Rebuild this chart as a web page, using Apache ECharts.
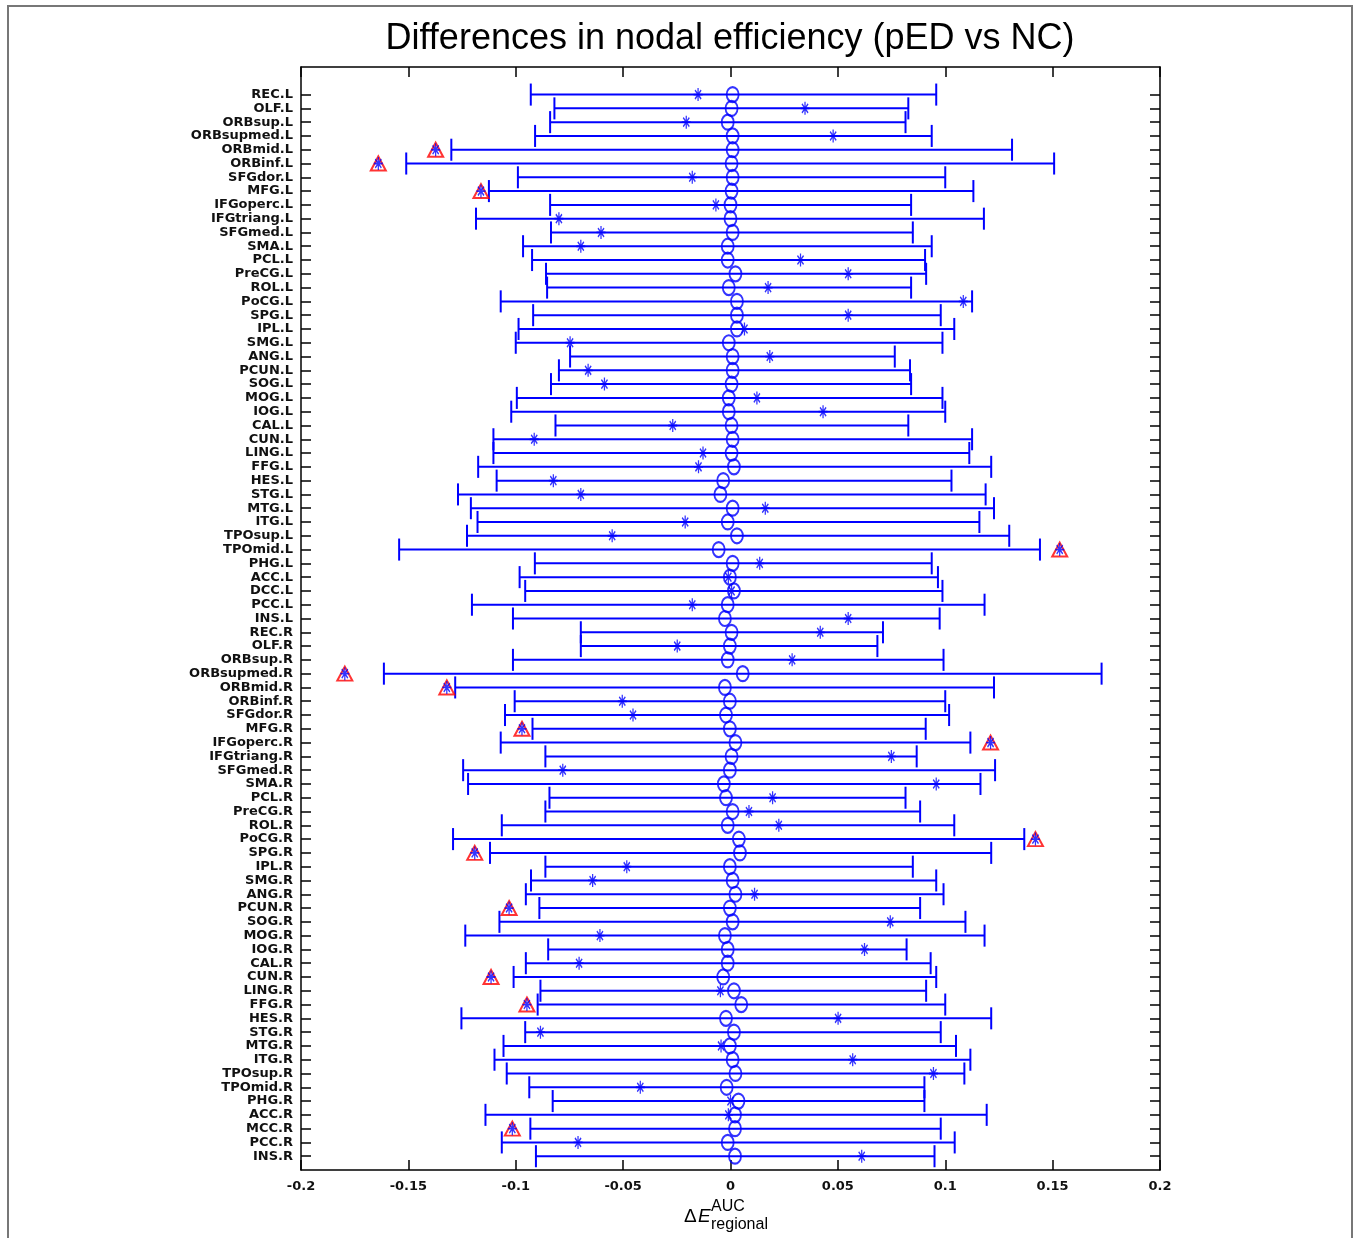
<!DOCTYPE html>
<html>
<head>
<meta charset="utf-8">
<title>Differences in nodal efficiency</title>
<script src="https://cdn.jsdelivr.net/npm/echarts@6/dist/echarts.min.js"></script>
<style>
  html, body { margin: 0; padding: 0; background: #fff; }
  #chart { width: 1357px; height: 1238px; }
</style>
</head>
<body>
<div id="chart"></div>
<script>
// regions, top to bottom
const regions = ['REC.L','OLF.L','ORBsup.L','ORBsupmed.L','ORBmid.L','ORBinf.L','SFGdor.L','MFG.L','IFGoperc.L','IFGtriang.L',
  'SFGmed.L','SMA.L','PCL.L','PreCG.L','ROL.L','PoCG.L','SPG.L','IPL.L','SMG.L','ANG.L','PCUN.L','SOG.L','MOG.L','IOG.L',
  'CAL.L','CUN.L','LING.L','FFG.L','HES.L','STG.L','MTG.L','ITG.L','TPOsup.L','TPOmid.L','PHG.L','ACC.L','DCC.L','PCC.L','INS.L',
  'REC.R','OLF.R','ORBsup.R','ORBsupmed.R','ORBmid.R','ORBinf.R','SFGdor.R','MFG.R','IFGoperc.R','IFGtriang.R',
  'SFGmed.R','SMA.R','PCL.R','PreCG.R','ROL.R','PoCG.R','SPG.R','IPL.R','SMG.R','ANG.R','PCUN.R','SOG.R','MOG.R','IOG.R',
  'CAL.R','CUN.R','LING.R','FFG.R','HES.R','STG.R','MTG.R','ITG.R','TPOsup.R','TPOmid.R','PHG.R','ACC.R','MCC.R','PCC.R','INS.R'];

// lower end of the error bar
const ciLow = [-0.093, -0.082, -0.084, -0.091, -0.130, -0.151, -0.099, -0.1125, -0.084, -0.1185,
  -0.0836, -0.0966, -0.0924, -0.0859, -0.0854, -0.107, -0.0919, -0.0987, -0.100, -0.0747, -0.0799, -0.0836, -0.0995, -0.1021,
  -0.0815, -0.1104, -0.1104, -0.1175, -0.1089, -0.1269, -0.1209, -0.1178, -0.1227, -0.1543, -0.0911, -0.0982, -0.0956, -0.1204, -0.1013,
  -0.0697, -0.0697, -0.1013, -0.1614, -0.1282, -0.1005, -0.105, -0.0922, -0.107, -0.0862,
  -0.1245, -0.1222, -0.0843, -0.0862, -0.1065, -0.1292, -0.112, -0.0862, -0.0929, -0.0953, -0.089, -0.1076, -0.1235, -0.0849,
  -0.0953, -0.101, -0.0885, -0.0898, -0.1253, -0.0956, -0.1057, -0.1099, -0.1042, -0.0937, -0.0828, -0.1141, -0.0932, -0.1065, -0.0906];

// upper end of the error bar
const ciHigh = [0.0958, 0.0828, 0.0815, 0.0937, 0.1311, 0.1507, 0.100, 0.1131, 0.0841, 0.118,
  0.0849, 0.0937, 0.0906, 0.0911, 0.0841, 0.1125, 0.0979, 0.1042, 0.0987, 0.0765, 0.0836, 0.0841, 0.0987, 0.100,
  0.0828, 0.1125, 0.1112, 0.1214, 0.1029, 0.1188, 0.1227, 0.1159, 0.1298, 0.1441, 0.0937, 0.0966, 0.0987, 0.1183, 0.0974,
  0.071, 0.0684, 0.0992, 0.1728, 0.1227, 0.100, 0.1018, 0.0909, 0.1117, 0.0867,
  0.1232, 0.1164, 0.0815, 0.0883, 0.1042, 0.1368, 0.1214, 0.0849, 0.0958, 0.0992, 0.0883, 0.1094, 0.1183, 0.082,
  0.0932, 0.0958, 0.0911, 0.100, 0.1214, 0.0979, 0.105, 0.1117, 0.1089, 0.0903, 0.0903, 0.1193, 0.0979, 0.1044, 0.095];

// mean of the null distribution (circles)
const nullMean = [0.001, 0.0005, -0.0013, 0.001, 0.001, 0.0005, 0.001, 0.0005, 0, 0,
  0.001, -0.0013, -0.0013, 0.0023, -0.0008, 0.003, 0.003, 0.003, -0.0008, 0.001, 0.001, 0.0005, -0.0008, -0.0008,
  0.0005, 0.001, 0.0005, 0.0016, -0.0034, -0.0047, 0.001, -0.0013, 0.003, -0.0055, 0.001, -0.0003, 0.0016, -0.0013, -0.0026,
  0.0005, -0.0003, -0.0013, 0.0057, -0.0026, -0.0003, -0.0021, -0.0003, 0.0023, 0.0005,
  -0.0003, -0.0031, -0.0021, 0.001, -0.0013, 0.0039, 0.0044, -0.0003, 0.001, 0.0023, -0.0003, 0.001, -0.0026, -0.0013,
  -0.0013, -0.0034, 0.0016, 0.005, -0.0021, 0.0016, -0.0003, 0.001, 0.0023, -0.0018, 0.0037, 0.0021, 0.0021, -0.0013, 0.0021];

// observed difference (asterisks)
const observed = [-0.0151, 0.0347, -0.0206, 0.0478, -0.1373, -0.164, -0.0178, -0.1162, -0.0068, -0.0799,
  -0.0603, -0.0697, 0.0326, 0.0548, 0.0175, 0.1084, 0.0548, 0.0065, -0.0747, 0.0183, -0.0663, -0.0587, 0.0123, 0.0431,
  -0.0269, -0.0914, -0.0128, -0.0149, -0.0825, -0.0697, 0.0162, -0.0211, -0.0551, 0.1533, 0.0136, -0.001, 0.0005, -0.0178, 0.0548,
  0.0418, -0.0248, 0.0287, -0.1796, -0.1321, -0.0504, -0.0454, -0.0971, 0.1211, 0.0749,
  -0.0781, 0.0958, 0.0196, 0.0086, 0.0225, 0.142, -0.1191, -0.0483, -0.0642, 0.0112, -0.1031, 0.0744, -0.0608, 0.0624,
  -0.0705, -0.1115, -0.0047, -0.0948, 0.0501, -0.0885, -0.0044, 0.0569, 0.0945, -0.042, 0, -0.001, -0.1016, -0.071, 0.0611];

// regions outside the interval (red triangles)
const significant = ['ORBmid.L','ORBinf.L','MFG.L','TPOmid.L','ORBsupmed.R','ORBmid.R','MFG.R','IFGoperc.R',
  'PoCG.R','SPG.R','PCUN.R','CUN.R','FFG.R','MCC.R'];

const nRows = regions.length;          // 78, first one drawn at y = 78
const rowY = i => nRows - i;
const rowValues = regions.map((r, i) => rowY(i));

const barData = regions.map((r, i) => [ciLow[i], ciHigh[i], rowY(i)]);
const meanData = regions.map((r, i) => [nullMean[i], rowY(i)]);
const obsData = regions.map((r, i) => [observed[i], rowY(i)]);
const sigData = regions.map((r, i) => [observed[i], rowY(i)]).filter((d, i) => significant.includes(regions[i]));

const BLUE = '#0000ff';
const starPath = 'path://M5,0L5,10M0,5L10,5M1.6,1.6L8.4,8.4M1.6,8.4L8.4,1.6';
const labelFont = 'DejaVu Sans';

const chart = echarts.init(document.getElementById('chart'));

const yAxisBase = {
  type: 'value',
  min: 0,
  max: nRows + 2,
  splitLine: { show: false },
  axisLine: { show: true, onZero: false, lineStyle: { color: '#000', width: 1.5 } },
  axisTick: { show: true, inside: true, length: 10, customValues: rowValues, lineStyle: { color: '#000', width: 1.5 } }
};

const xAxisBase = {
  type: 'value',
  min: -0.2,
  max: 0.2,
  interval: 0.05,
  splitLine: { show: false },
  axisLine: { show: true, onZero: false, lineStyle: { color: '#000', width: 1.5 } },
  axisTick: { show: true, inside: true, length: 10, lineStyle: { color: '#000', width: 1.5 } }
};

const option = {
  animation: false,
  backgroundColor: '#fff',
  title: {
    text: 'Differences in nodal efficiency (pED vs NC)',
    left: 725,
    top: 16,
    textAlign: 'center',
    textStyle: { fontFamily: 'Liberation Sans', fontSize: 36, fontWeight: 'normal', color: '#000' }
  },
  grid: { left: 301, top: 67, width: 859, height: 1103 },
  xAxis: [
    Object.assign({}, xAxisBase, {
      position: 'bottom',
      axisLabel: {
        margin: 10, color: '#111', fontFamily: labelFont, fontSize: 13, fontWeight: 'bold',
        formatter: v => String(Math.round(v * 100) / 100)
      }
    }),
    Object.assign({}, xAxisBase, { position: 'top', axisLabel: { show: false } })
  ],
  yAxis: [
    Object.assign({}, yAxisBase, {
      position: 'left',
      axisLabel: {
        customValues: rowValues,
        margin: 8, color: '#111', fontFamily: labelFont, fontSize: 13, fontWeight: 'bold', lineHeight: 13,
        formatter: v => regions[nRows - v] || ''
      }
    }),
    Object.assign({}, yAxisBase, { position: 'right', axisLabel: { show: false } })
  ],
  graphic: [
    { type: 'rect', shape: { x: 8, y: 6, width: 1344, height: 1260 }, style: { fill: 'none', stroke: '#777', lineWidth: 2 }, silent: true },
    { type: 'text', x: 684, y: 1217, style: { text: 'Δ', font: '19px "Liberation Sans"', fill: '#000', verticalAlign: 'middle' } },
    { type: 'text', x: 698, y: 1217, style: { text: 'E', font: 'italic 19px "Liberation Sans"', fill: '#000', verticalAlign: 'middle' } },
    { type: 'text', x: 711, y: 1207, style: { text: 'AUC', font: '16px "Liberation Sans"', fill: '#000', verticalAlign: 'middle' } },
    { type: 'text', x: 711, y: 1225, style: { text: 'regional', font: '16px "Liberation Sans"', fill: '#000', verticalAlign: 'middle' } }
  ],
  series: [
    {
      name: 'interval',
      type: 'custom',
      xAxisIndex: 0,
      yAxisIndex: 0,
      encode: { x: [0, 1], y: 2 },
      data: barData,
      renderItem: function (params, api) {
        const y = api.value(2);
        const lo = api.coord([api.value(0), y]);
        const hi = api.coord([api.value(1), y]);
        const cap = api.size([0, 0.8])[1];
        const st = { stroke: BLUE, lineWidth: 2 };
        return {
          type: 'group',
          children: [
            { type: 'line', shape: { x1: lo[0], y1: lo[1], x2: hi[0], y2: hi[1] }, style: st },
            { type: 'line', shape: { x1: lo[0], y1: lo[1] - cap, x2: lo[0], y2: lo[1] + cap }, style: st },
            { type: 'line', shape: { x1: hi[0], y1: hi[1] - cap, x2: hi[0], y2: hi[1] + cap }, style: st }
          ]
        };
      }
    },
    {
      name: 'null mean',
      type: 'scatter',
      data: meanData,
      symbol: 'circle',
      symbolSize: [12, 15],
      itemStyle: { color: 'rgba(0,0,0,0)', borderColor: BLUE, borderWidth: 2 }
    },
    {
      name: 'significant',
      type: 'scatter',
      data: sigData,
      symbol: 'triangle',
      symbolSize: [15, 14],
      itemStyle: { color: 'rgba(0,0,0,0)', borderColor: '#ff0000', borderWidth: 2 }
    },
    {
      name: 'observed',
      type: 'scatter',
      data: obsData,
      symbol: starPath,
      symbolSize: [9, 13],
      itemStyle: { color: BLUE, borderColor: BLUE, borderWidth: 1.5 }
    }
  ]
};

chart.setOption(option);
</script>
</body>
</html>
